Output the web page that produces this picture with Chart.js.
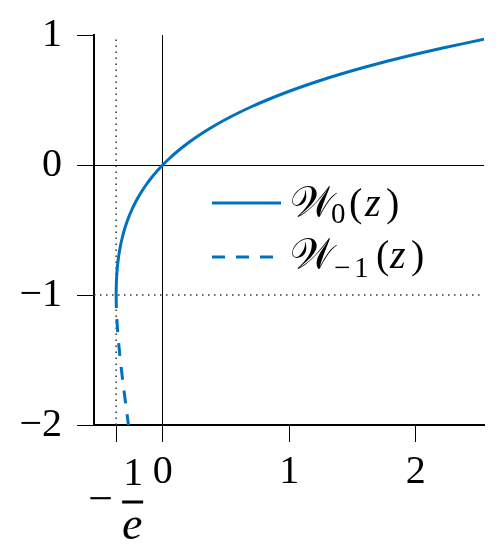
<!DOCTYPE html>
<html><head><meta charset="utf-8">
<script src="https://cdn.jsdelivr.net/npm/chart.js@4"></script>
<style>html,body{margin:0;padding:0;background:#fff}</style>
</head><body>
<canvas id="c" width="499" height="550"></canvas>
<script>
// Principal branch W0: points (z, W0(z))
const w0X = [-0.3679, -0.3678, -0.3674, -0.3659, -0.3633, -0.3595, -0.3543, -0.3476, -0.3393, -0.3293, -0.3173, -0.3033, -0.2869, -0.2681, -0.2466, -0.2222, -0.1947, -0.1637, -0.1291, -0.0905, -0.0476, 0, 0.0526, 0.1105, 0.1743, 0.2443, 0.3210, 0.4050, 0.4967, 0.5967, 0.7057, 0.8244, 0.9533, 1.0933, 1.2451, 1.4096, 1.5878, 1.7804, 1.9887, 2.2136, 2.54];
const w0Y = [-1, -0.98, -0.95, -0.9, -0.85, -0.8, -0.75, -0.7, -0.65, -0.6, -0.55, -0.5, -0.45, -0.4, -0.35, -0.3, -0.25, -0.2, -0.15, -0.1, -0.05, 0, 0.05, 0.1, 0.15, 0.2, 0.25, 0.3, 0.35, 0.4, 0.45, 0.5, 0.55, 0.6, 0.65, 0.7, 0.75, 0.8, 0.85, 0.9, 0.967];
// Lower branch W-1
const wm1X = [-0.3679, -0.3674, -0.3662, -0.3614, -0.3543, -0.3452, -0.3347, -0.3230, -0.3106, -0.2975, -0.2842, -0.2707];
const wm1Y = [-1, -1.05, -1.1, -1.2, -1.3, -1.4, -1.5, -1.6, -1.7, -1.8, -1.9, -2];
// Reference lines
const branchPointX = -0.3679;
const branchPointY = -1;
// Axes
const xMin = -0.543, xMax = 2.54, yMin = -2, yMax = 1;
const xTickValues = [-0.3679, 0, 1, 2];
const yTickValues = [-2, -1, 0, 1];
const legendMain = ['\u{1D4B2}', '\u{1D4B2}'];
const legendSub = [['0'], ['\u2212', '1']];

const BLUE = '#0072BD';
const FONT = '"Liberation Serif", serif';

const toPts = (xs, ys) => xs.map((x, i) => ({x: x, y: ys[i]}));

const overlay = {
  id: 'overlay',
  afterDraw(chart) {
    const ctx = chart.ctx;
    const xs = chart.scales.x;
    ctx.save();
    ctx.fillStyle = '#000';
    // -1/e tick label as a fraction
    const px = xs.getPixelForValue(branchPointX);
    ctx.textBaseline = 'alphabetic';
    ctx.textAlign = 'center';
    ctx.font = '44px ' + FONT;
    ctx.fillText('\u2212', px - 15.5, 513);
    ctx.font = '40px ' + FONT;
    ctx.fillText('1', px + 17, 485);
    ctx.fillRect(px + 6, 500.5, 21, 3);
    ctx.font = 'italic 46px ' + FONT;
    ctx.fillText('e', px + 16, 539);
    // legend
    const rows = [
      {y: 203, base: 216, dash: [], end: 281, sub: [331], paren: [349, 365, 386]},
      {y: 257, base: 268, dash: [13, 11], end: 273, sub: [334, 354], paren: [376, 390, 411]}
    ];
    rows.forEach((r, i) => {
      ctx.save();
      ctx.strokeStyle = BLUE;
      ctx.lineWidth = 3;
      ctx.setLineDash(r.dash);
      ctx.beginPath();
      ctx.moveTo(212, r.y);
      ctx.lineTo(r.end, r.y);
      ctx.stroke();
      ctx.restore();
      ctx.textAlign = 'left';
      ctx.font = '42px ' + FONT;
      ctx.fillText(legendMain[i], 290, r.base);
      ctx.font = '29px ' + FONT;
      legendSub[i].forEach((s, k) => ctx.fillText(s, r.sub[k], r.base + 7 + i * 2));
      ctx.font = '40px ' + FONT;
      ctx.fillText('(', r.paren[0], r.base);
      ctx.font = 'italic 40px ' + FONT;
      ctx.fillText('z', r.paren[1], r.base);
      ctx.font = '40px ' + FONT;
      ctx.fillText(')', r.paren[2], r.base);
    });
    ctx.restore();
  }
};

const chart = new Chart(document.getElementById('c'), {
  type: 'scatter',
  data: {
    datasets: [
      {label: 'W0', data: toPts(w0X, w0Y), showLine: true, borderColor: BLUE, borderWidth: 3, pointRadius: 0, tension: 0.3, order: 0},
      {label: 'W-1', data: toPts(wm1X, wm1Y), showLine: true, borderColor: BLUE, borderWidth: 3, borderDash: [13, 11], pointRadius: 0, tension: 0.3, order: 0},
      {label: 'z=-1/e', data: [{x: branchPointX, y: yMin}, {x: branchPointX, y: yMax}], showLine: true, borderColor: '#333', borderWidth: 1.5, borderDash: [1.5, 4.5], pointRadius: 0, order: 5},
      {label: 'W=-1', data: [{x: xMin, y: branchPointY}, {x: xMax, y: branchPointY}], showLine: true, borderColor: '#333', borderWidth: 1.5, borderDash: [1.5, 4.5], pointRadius: 0, order: 5}
    ]
  },
  options: {
    responsive: false,
    animation: false,
    devicePixelRatio: 1,
    layout: {padding: {top: 35, right: 15, left: 0, bottom: 0}},
    plugins: {legend: {display: false}, tooltip: {enabled: false}},
    scales: {
      x: {
        type: 'linear', min: xMin, max: xMax,
        afterBuildTicks: s => { s.ticks = xTickValues.map(v => ({value: v})); },
        afterFit: s => { s.height = 125; s.paddingLeft = 0; s.paddingRight = 0; },
        ticks: {
          autoSkip: false, maxRotation: 0, padding: 6, color: '#000',
          font: {family: FONT, size: 40},
          callback: v => (v === branchPointX ? '' : String(v))
        },
        grid: {
          drawOnChartArea: true,
          color: c => (c.tick && c.tick.value === 0 ? '#000' : 'rgba(0,0,0,0)'),
          lineWidth: 1, tickColor: '#000', tickLength: 17, tickWidth: 1
        },
        border: {display: true, color: '#000', width: 2}
      },
      y: {
        type: 'linear', min: yMin, max: yMax,
        afterBuildTicks: s => { s.ticks = yTickValues.map(v => ({value: v})); },
        afterFit: s => { s.width = 94; s.paddingTop = 0; s.paddingBottom = 0; },
        ticks: {
          padding: 15, color: '#000',
          font: {family: FONT, size: 40},
          callback: v => String(v).replace('-', '\u2212')
        },
        grid: {
          drawOnChartArea: true,
          color: c => (c.tick && c.tick.value === 0 ? '#000' : 'rgba(0,0,0,0)'),
          lineWidth: 1, tickColor: '#000', tickLength: 17, tickWidth: 1
        },
        border: {display: true, color: '#000', width: 2}
      }
    }
  },
  plugins: [overlay]
});
</script>
</body></html>
